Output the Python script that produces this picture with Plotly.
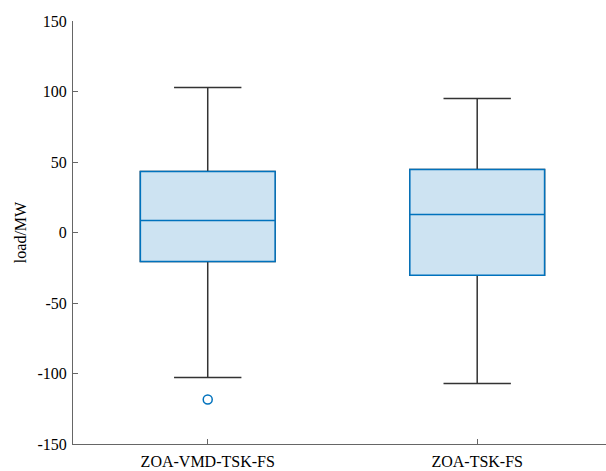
import plotly.graph_objects as go

# Summary statistics of the load error (MW) for each model
categories = ["ZOA-VMD-TSK-FS", "ZOA-TSK-FS"]
q1 = [-20.5, -30.4]
median = [8.5, 12.7]
q3 = [43.2, 44.6]
lower_whisker = [-102.8, -107.1]
upper_whisker = [102.9, 95.1]
outlier_cat = ["ZOA-VMD-TSK-FS"]
outlier_val = [-118.4]

y_ticks = [-150, -100, -50, 0, 50, 100, 150]
y_tick_text = ["-150", "-100", "-50", "0", "50", "100", "150"]

FONT = "Liberation Serif, Times New Roman, serif"
BLUE = "#0072BD"
FILL = "#cde3f2"
WHISKER = "#333333"

fig = go.Figure()

# Whiskers (dark) drawn first
fig.add_trace(go.Box(
    x=categories, q1=q1, median=median, q3=q3,
    lowerfence=lower_whisker, upperfence=upper_whisker,
    width=0.5, whiskerwidth=0.5,
    line=dict(color=WHISKER, width=1.5),
    fillcolor="rgba(0,0,0,0)", boxpoints=False,
    hoverinfo="skip", showlegend=False,
))

# Filled boxes with blue outline and median on top
fig.add_trace(go.Box(
    x=categories, q1=q1, median=median, q3=q3,
    lowerfence=q1, upperfence=q3,
    width=0.5, whiskerwidth=0,
    line=dict(color=BLUE, width=1.5),
    fillcolor=FILL, boxpoints=False,
    showlegend=False,
))

# Outlier
fig.add_trace(go.Scatter(
    x=outlier_cat, y=outlier_val, mode="markers",
    marker=dict(symbol="circle-open", size=9, color=BLUE, line=dict(width=1.5)),
    showlegend=False,
))

fig.update_layout(
    width=606, height=471,
    margin=dict(l=73, r=0, t=21, b=27),
    plot_bgcolor="white", paper_bgcolor="white",
    font=dict(family=FONT, size=16, color="black"),
    xaxis=dict(
        type="category", range=[-0.5, 1.478],
        showline=True, linecolor="#666666", linewidth=1,
        ticks="inside", ticklen=5, tickcolor="#666666",
        showgrid=False, zeroline=False, ticklabelstandoff=3,
        tickfont=dict(family=FONT, size=16, color="black"),
    ),
    yaxis=dict(
        range=[-150, 150],
        tickvals=y_ticks, ticktext=y_tick_text,
        showline=True, linecolor="#666666", linewidth=1,
        ticks="inside", ticklen=5, tickcolor="#666666",
        showgrid=False, zeroline=False, ticklabelstandoff=2,
        tickfont=dict(family=FONT, size=16, color="black"),
        title=dict(text="load/MW", font=dict(family=FONT, size=16, color="black"), standoff=6),
    ),
)

fig.write_html("out.html")
